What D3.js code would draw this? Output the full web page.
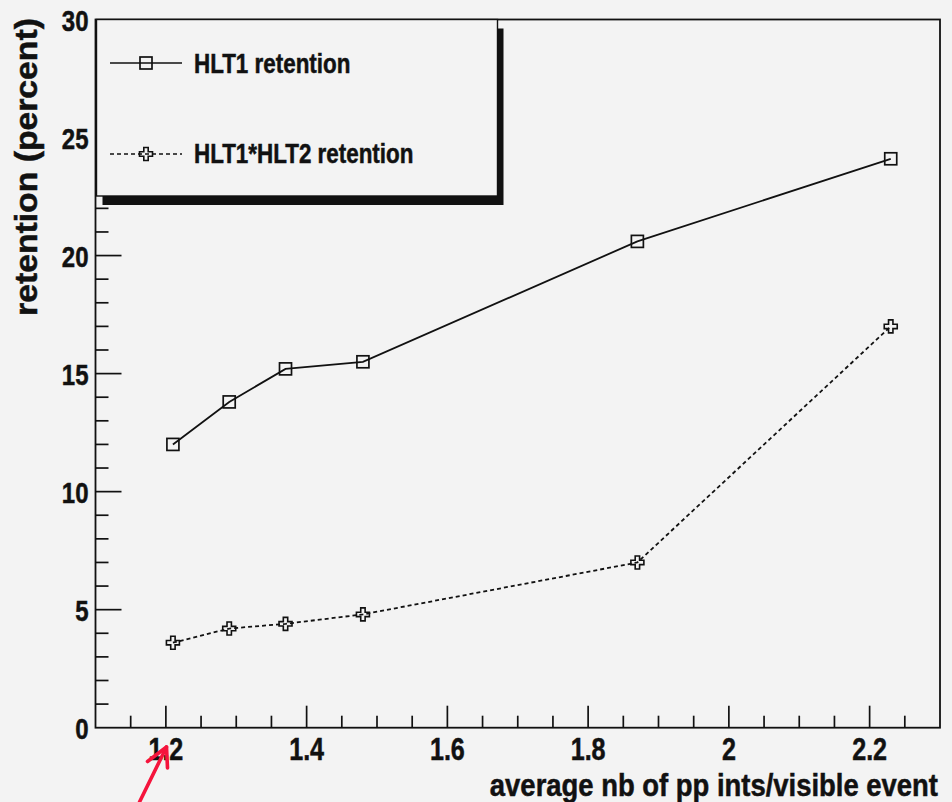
<!DOCTYPE html>
<html>
<head>
<meta charset="utf-8">
<script src="https://cdn.jsdelivr.net/npm/d3@7"></script>
<style>
  html, body { margin: 0; padding: 0; background: #f3f3f3; }
  svg { display: block; }
  text { font-family: "Liberation Sans", Arial, Helvetica, sans-serif; font-weight: bold; fill: #111; stroke: #111; stroke-width: 0.5px; }
</style>
</head>
<body>
<svg id="chart" width="952" height="802"></svg>
<script>
// Mean number of pp interactions per visible event
const pileup = [1.21, 1.29, 1.37, 1.48, 1.87, 2.23];
// Trigger retention in percent
const hlt1Retention = [12.0, 13.8, 15.2, 15.5, 20.6, 24.1];
const hlt1hlt2Retention = [3.6, 4.2, 4.4, 4.8, 7.0, 17.0];

const seriesNames = ["HLT1 retention", "HLT1*HLT2 retention"];
const xTickValues = [1.2, 1.4, 1.6, 1.8, 2.0, 2.2];
const yTickValues = [0, 5, 10, 15, 20, 25, 30];
const xTitle = "average nb of pp ints/visible event";
const yTitle = "retention (percent)";

const W = 952, H = 802;
const frame = { left: 95.5, right: 940, top: 19.5, bottom: 727.7 };
const bg = "#f3f3f3";
const ink = "#111";

const svg = d3.select("#chart");
svg.append("rect").attr("width", W).attr("height", H).attr("fill", bg);

const x = d3.scaleLinear().domain([1.1, 2.3]).range([frame.left, frame.right]);
const y = d3.scaleLinear().domain([0, 30]).range([frame.bottom, frame.top]);

// Frame
svg.append("rect")
  .attr("x", frame.left).attr("y", frame.top)
  .attr("width", frame.right - frame.left).attr("height", frame.bottom - frame.top)
  .attr("fill", bg).attr("stroke", ink).attr("stroke-width", 1.8);

// Axis ticks (inside the frame, ROOT style)
const xMinor = d3.range(1.15, 2.3, 0.05).map(v => +v.toFixed(2));
const yMinor = d3.range(1, 30, 1);

const ticks = svg.append("g").attr("stroke", ink).attr("stroke-width", 1.7);
xMinor.forEach(v => {
  const major = xTickValues.some(t => Math.abs(t - v) < 1e-6);
  ticks.append("line")
    .attr("x1", x(v)).attr("x2", x(v))
    .attr("y1", frame.bottom).attr("y2", frame.bottom - (major ? 22 : 12));
});
yMinor.forEach(v => {
  const major = v % 5 === 0;
  ticks.append("line")
    .attr("y1", y(v)).attr("y2", y(v))
    .attr("x1", frame.left).attr("x2", frame.left + (major ? 26 : 13));
});

// Tick labels
const fmtX = d => (d === 2 ? "2" : d3.format(".1f")(d));
svg.append("g").selectAll("text").data(xTickValues).join("text")
  .attr("transform", d => `translate(${x(d)},760) scale(0.81,1)`)
  .attr("text-anchor", "middle")
  .attr("font-size", 31)
  .text(fmtX);

svg.append("g").selectAll("text").data(yTickValues).join("text")
  .attr("transform", d => `translate(88.5,${y(d) + 11}) scale(0.8,1)`)
  .attr("text-anchor", "end")
  .attr("font-size", 30)
  .text(d => d);

// Axis titles
svg.append("text")
  .attr("transform", "translate(938,795.5) scale(0.885,1)")
  .attr("text-anchor", "end")
  .attr("font-size", 31)
  .text(xTitle);

svg.append("text")
  .attr("transform", "translate(37,167) rotate(-90) scale(1.054,1)")
  .attr("text-anchor", "middle")
  .attr("font-size", 32)
  .text(yTitle);

// Marker shapes
function squareMarker(g, cx, cy) {
  g.append("rect")
    .attr("x", cx - 6).attr("y", cy - 6)
    .attr("width", 12).attr("height", 12)
    .attr("fill", "none").attr("stroke", ink).attr("stroke-width", 1.7);
}
function crossMarker(g, cx, cy) {
  const a = 6.5, b = 2.2;
  const p = [
    [-b, -a], [b, -a], [b, -b], [a, -b], [a, b], [b, b],
    [b, a], [-b, a], [-b, b], [-a, b], [-a, -b], [-b, -b]
  ].map(([dx, dy]) => [cx + dx, cy + dy]);
  g.append("path")
    .attr("d", "M" + p.map(q => q.join(",")).join("L") + "Z")
    .attr("fill", "none").attr("stroke", ink).attr("stroke-width", 1.6);
}

const line = d3.line().x(d => x(d[0])).y(d => y(d[1]));
const plot = svg.append("g");

const s1 = pileup.map((v, i) => [v, hlt1Retention[i]]);
const s2 = pileup.map((v, i) => [v, hlt1hlt2Retention[i]]);

plot.append("path").attr("d", line(s1))
  .attr("fill", "none").attr("stroke", ink).attr("stroke-width", 1.8);
plot.append("path").attr("d", line(s2))
  .attr("fill", "none").attr("stroke", ink).attr("stroke-width", 1.8)
  .attr("stroke-dasharray", "4,3");

s1.forEach(d => squareMarker(plot, x(d[0]), y(d[1])));
s2.forEach(d => crossMarker(plot, x(d[0]), y(d[1])));

// Legend box with drop shadow
const lg = svg.append("g");
const box = { x0: 96.5, y0: 19.5, x1: 497.5, y1: 196 };
lg.append("rect")
  .attr("x", box.x0 + 6).attr("y", box.y0 + 9)
  .attr("width", box.x1 - box.x0).attr("height", box.y1 - box.y0)
  .attr("fill", ink);
lg.append("rect")
  .attr("x", box.x0).attr("y", box.y0)
  .attr("width", box.x1 - box.x0).attr("height", box.y1 - box.y0)
  .attr("fill", bg).attr("stroke", ink).attr("stroke-width", 1.4);

const rows = [
  { name: seriesNames[0], cy: 63, base: 72.7, dash: null, marker: squareMarker },
  { name: seriesNames[1], cy: 154, base: 163.3, dash: "4,3", marker: crossMarker }
];
rows.forEach(r => {
  lg.append("line")
    .attr("x1", 110).attr("x2", 182).attr("y1", r.cy).attr("y2", r.cy)
    .attr("stroke", ink).attr("stroke-width", 1.6)
    .attr("stroke-dasharray", r.dash);
  r.marker(lg, 146, r.cy);
  lg.append("text")
    .attr("transform", `translate(194,${r.base}) scale(0.83,1)`)
    .attr("font-size", 27)
    .text(r.name);
});

// Red pointer arrow under the first x value
const arrow = svg.append("g")
  .attr("fill", "none").attr("stroke", "#f5143c").attr("stroke-width", 3.6)
  .attr("stroke-linecap", "round").attr("stroke-linejoin", "round");
arrow.append("path").attr("d", "M139.5,802 L166.5,747");
arrow.append("path").attr("d", "M147.5,761.5 L166.5,747 L167.5,768");
</script>
</body>
</html>
